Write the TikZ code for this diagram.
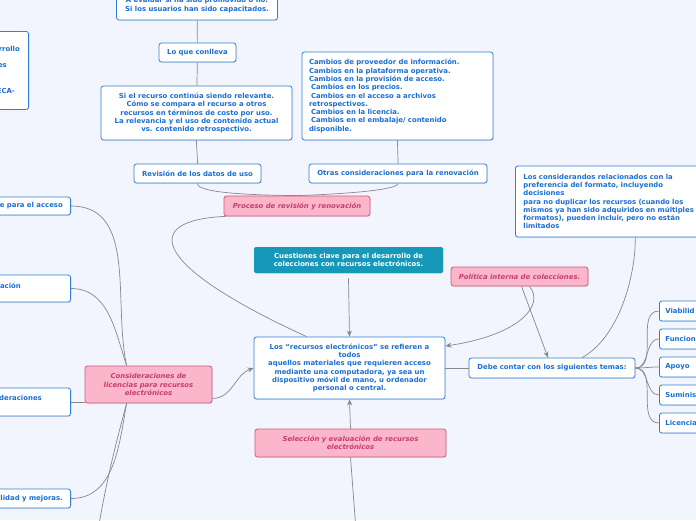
\documentclass[tikz,border=0pt]{standalone}
\usepackage{fontspec}
\setmainfont{DejaVu Sans}
\usepackage{xcolor}
\usetikzlibrary{arrows.meta, positioning, shadows}
\definecolor{mapbg}{RGB}{242,245,253}
\definecolor{mapblue}{RGB}{47,128,214}
\definecolor{maptext}{RGB}{28,110,210}
\definecolor{pinkfill}{RGB}{252,182,203}
\definecolor{pinkline}{RGB}{205,90,125}
\definecolor{pinktext}{RGB}{196,62,110}
\definecolor{tealfill}{RGB}{22,152,184}
\definecolor{linkgray}{RGB}{135,135,140}
\newcommand{\mapfont}{\fontsize{6.9}{8.3}\selectfont\bfseries}

\begin{document}
\begin{tikzpicture}[
  x=1pt, y=-1pt,
  box/.style={rectangle, draw=mapblue, fill=white, rounded corners=2.5pt, line width=0.8pt, align=center, font=\mapfont, text=maptext, inner sep=2pt, drop shadow={shadow xshift=0.6pt, shadow yshift=-0.8pt, opacity=0.2}},
  topic/.style={box, draw=pinkline, fill=pinkfill, text=pinktext, font=\mapfont\itshape},
  rootbox/.style={box, draw=none, fill=tealfill, text=white, rounded corners=2pt},
  frag/.style={font=\mapfont, text=maptext, inner sep=0pt},
  link/.style={draw=linkgray, line width=0.7pt},
  arrow/.style={link, -{Stealth[length=6pt, width=5pt]}}
]
\useasboundingbox (0,0) rectangle (696,520);
\clip (0,0) rectangle (696,520);
\fill[mapbg] (0,0) rectangle (696,520);

% column of the review process
\node[box, minimum width=161pt, minimum height=30pt] (promovido) at (197,5) {A evaluar si ha sido promovido o no.\\Si los usuarios han sido capacitados.};
\node[box, minimum width=77pt, minimum height=19pt] (conlleva) at (197.5,52.5) {Lo que conlleva};
\node[box, minimum width=191pt, minimum height=54pt] (relevante) at (196.5,113) {Si el recurso continúa siendo relevante.\\Cómo se compara el recurso a otros\\recursos en términos de costo por uso.\\La relevancia y el uso de contenido actual\\vs. contenido retrospectivo.};
\node[box, minimum width=127pt, minimum height=19pt] (datos) at (197.5,173.5) {Revisión de los datos de uso};
\node[box, minimum width=191pt, minimum height=88pt, text width=177pt, align=left] (cambios) at (397.5,96) {Cambios de proveedor de información.\\Cambios en la plataforma operativa.\\Cambios en la provisión de acceso.\\\hspace*{2pt}Cambios en los precios.\\\hspace*{2pt}Cambios en el acceso a archivos\\retrospectivos.\\\hspace*{2pt}Cambios en la licencia.\\\hspace*{2pt}Cambios en el embalaje/ contenido\\disponible.};
\node[box, minimum width=178pt, minimum height=19pt] (otras) at (398,173.5) {Otras consideraciones para la renovación};
\node[topic, minimum width=146pt, minimum height=20pt] (proceso) at (297,206) {Proceso de revisión y renovación};

% centre
\node[rootbox, minimum width=189pt, minimum height=26pt] (cuestiones) at (348.5,260) {Cuestiones clave para el desarrollo de\\colecciones con recursos electrónicos.};
\node[box, minimum width=191pt, minimum height=62pt] (recursos) at (349.5,368) {Los “recursos electrónicos” se refieren a\\todos\\aquellos materiales que requieren acceso\\mediante una computadora, ya sea un\\dispositivo móvil de mano, u ordenador\\personal o central.};
\node[topic, minimum width=191pt, minimum height=28pt] (seleccion) at (350.5,443) {Selección y evaluación de recursos\\electrónicos};
\coordinate (selbottom) at (356,530);

% left side
\node[box, anchor=north east, minimum width=160pt, minimum height=78pt] (plan) at (29,31) {};
\node[frag, anchor=east] (planA) at (20,49) {rrollo};
\node[frag, anchor=east] (planB) at (7,66) {es};
\node[frag, anchor=east] (planC) at (15,91) {ECA-};
\node[topic, minimum width=127pt, minimum height=37pt] (licencias) at (148.5,384.5) {Consideraciones de\\licencias para recursos\\electrónicos};
\node[box, anchor=east, minimum width=160pt, minimum height=18pt] (acceso) at (71,206) {};
\node[frag, anchor=east] (accesoT) at (63,206) {e para el acceso};
\node[box, anchor=east, minimum width=160pt, minimum height=27pt] (evaluacion) at (71,288.5) {};
\node[frag, anchor=east] (evaluacionT) at (21,286) {ación};
\node[box, anchor=east, minimum width=160pt, minimum height=28pt] (otrascons) at (71,402) {};
\node[frag, anchor=east] (otrasconsT) at (42,398) {deraciones};
\node[box, anchor=east, minimum width=160pt, minimum height=19pt] (mejoras) at (71,498.5) {};
\node[frag, anchor=east] (mejorasT) at (63,498.5) {lidad y mejoras.};
\coordinate (licbottom) at (98,530);

% right side
\node[topic, minimum width=137pt, minimum height=19pt] (politica) at (519.5,276.5) {Política interna de colecciones.};
\node[box, anchor=west, minimum width=240pt, minimum height=71pt, text width=224pt, align=left] (formato) at (515,201.5) {Los considerandos relacionados con la\\preferencia del formato, incluyendo\\decisiones\\para no duplicar los recursos (cuando los\\mismos ya han sido adquiridos en múltiples\\formatos), pueden incluir, pero no están\\limitados};
\node[box, minimum width=166pt, minimum height=20pt] (debe) at (552,368) {Debe contar con los siguientes temas:};
\node[box, anchor=west, minimum height=20pt, text width=52pt, align=left, inner xsep=6pt] (viabilidad) at (659,311) {Viabilid};
\node[box, anchor=west, minimum height=20pt, text width=52pt, align=left, inner xsep=6pt] (funcion) at (659,339) {Funcion};
\node[box, anchor=west, minimum height=20pt, text width=52pt, align=left, inner xsep=6pt] (apoyo) at (659,367) {Apoyo};
\node[box, anchor=west, minimum height=20pt, text width=52pt, align=left, inner xsep=6pt] (suminis) at (659,395) {Suminis};
\node[box, anchor=west, minimum height=20pt, text width=52pt, align=left, inner xsep=6pt] (licencia) at (659,423) {Licencia};

% connectors
\begin{scope}[on background layer/.try]
\draw[link] (promovido) -- (conlleva);
\draw[link] (conlleva) -- (relevante);
\draw[link] (relevante.south) to[out=-90, in=90] (datos.north);
\draw[link] (cambios.south) to[out=-90, in=90] (otras.north);
\draw[link] (datos.south) .. controls (197,192) and (240,195) .. (proceso.north);
\draw[link] (otras.south) .. controls (398,190) and (345,194) .. (proceso.north);
\draw[link] ([xshift=2pt]proceso.south west) .. controls (140,220) and (150,265) .. ([xshift=53pt]recursos.north west);
\draw[arrow] ([yshift=-5pt]cuestiones.south) -- (recursos.north);
\draw[arrow] (seleccion.north) -- (recursos.south);
\draw[link] (seleccion.south) -- (selbottom);
\draw[arrow] ([yshift=5pt]licencias.south east) to[out=0, in=200] (recursos.west);
\draw[link] (acceso.east) to[out=0, in=102] ([xshift=42pt]licencias.north west);
\draw[link] (evaluacion.east) to[out=0, in=108] ([xshift=42pt]licencias.north west);
\draw[link] (otrascons.east) -- (licencias.west |- otrascons.east);
\draw[link] (mejoras.east) to[out=0, in=-100] ([xshift=42pt]licencias.south west);
\draw[link] ([xshift=42pt]licencias.south west) to[out=-105, in=80] (licbottom);
\draw[arrow] ([xshift=10pt]politica.south) .. controls (545,305) and (520,335) .. ([yshift=22pt]recursos.east);
\draw[arrow] ([xshift=2pt]politica.south) -- ([xshift=-4pt]debe.north);
\draw[link] (debe.west) -- (recursos.east);
\draw[link] ([xshift=30pt]debe.north) .. controls (615,340) and (635,285) .. (formato.south);
\foreach \topicname in {viabilidad, funcion, apoyo, suminis, licencia}
  \draw[link] (debe.east) to[out=0, in=180] (\topicname.west);
\end{scope}
\end{tikzpicture}
\end{document}
